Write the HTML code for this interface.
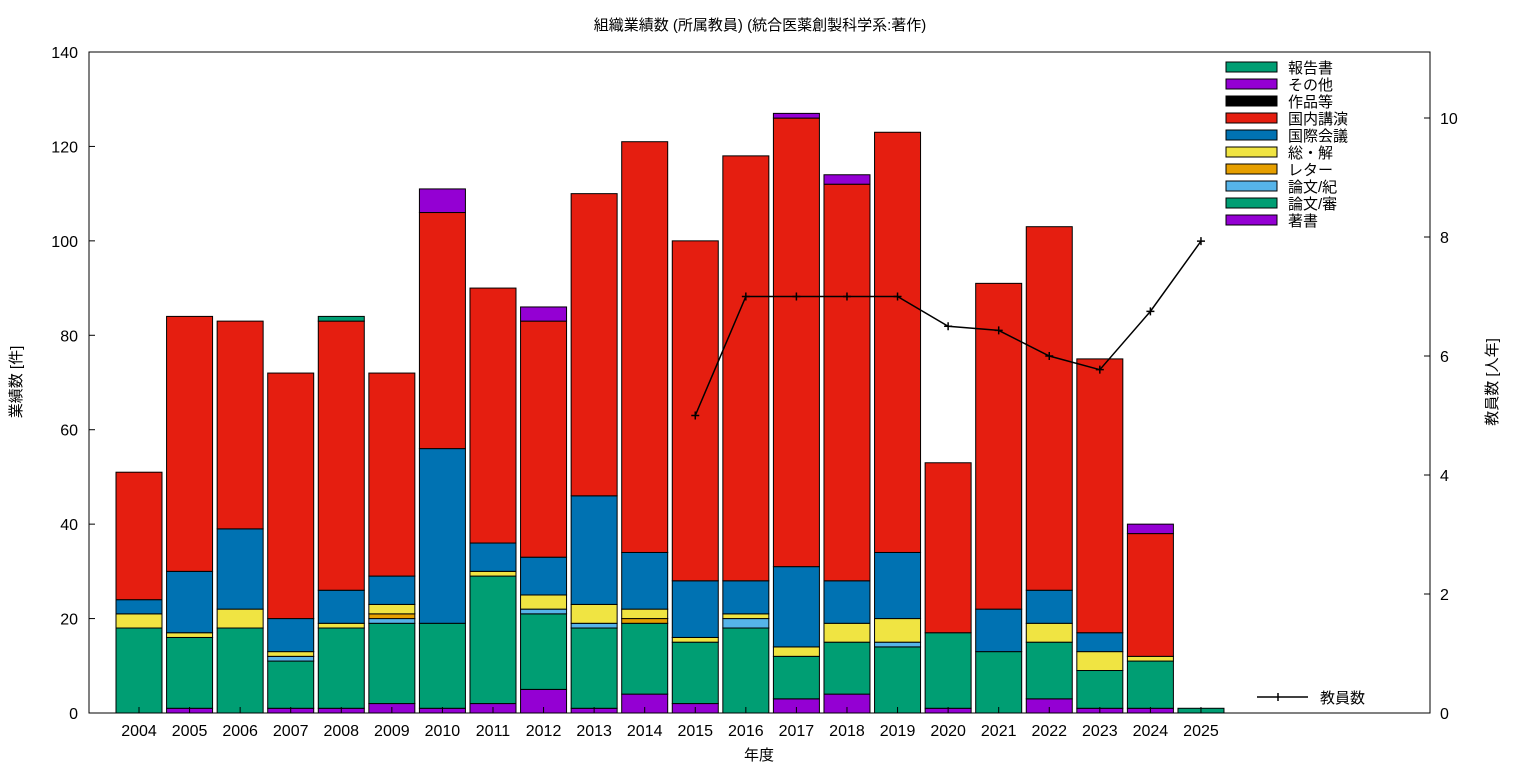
<!DOCTYPE html>
<html><head><meta charset="utf-8">
<style>
body{margin:0;background:#fff;font-family:"Liberation Sans","Noto Sans CJK JP",sans-serif;}
svg text{font-family:"Liberation Sans","Noto Sans CJK JP",sans-serif;}
</style></head>
<body>
<svg id="chart" width="1536" height="768" xmlns="http://www.w3.org/2000/svg"></svg>
<script>
const years=["2004","2005","2006","2007","2008","2009","2010","2011","2012","2013","2014","2015","2016","2017","2018","2019","2020","2021","2022","2023","2024","2025"];
const seriesNames=["著書","論文/審","論文/紀","レター","総・解","国際会議","国内講演","作品等","その他","報告書"];
const seriesColors=["#9400d3","#009e73","#56b4e9","#e69f00","#f0e442","#0072b2","#e51e10","#000000","#9400d3","#009e73"];
const books=[0,1,0,1,1,2,1,2,5,1,4,2,0,3,4,0,1,0,3,1,1,0];
const peerPapers=[18,15,18,10,17,17,18,27,16,17,15,13,18,9,11,14,16,13,12,8,10,1];
const bulletinPapers=[0,0,0,1,0,1,0,0,1,1,0,0,2,0,0,1,0,0,0,0,0,0];
const letters=[0,0,0,0,0,1,0,0,0,0,1,0,0,0,0,0,0,0,0,0,0,0];
const reviews=[3,1,4,1,1,2,0,1,3,4,2,1,1,2,4,5,0,0,4,4,1,0];
const intlConf=[3,13,17,7,7,6,37,6,8,23,12,12,7,17,9,14,0,9,7,4,0,0];
const domesticTalks=[27,54,44,52,57,43,50,54,50,64,87,72,90,95,84,89,36,69,77,58,26,0];
const works=[0,0,0,0,0,0,0,0,0,0,0,0,0,0,0,0,0,0,0,0,0,0];
const others=[0,0,0,0,0,0,5,0,3,0,0,0,0,1,2,0,0,0,0,0,2,0];
const reports=[0,0,0,0,1,0,0,0,0,0,0,0,0,0,0,0,0,0,0,0,0,0];
const staffYears=["2015","2016","2017","2018","2019","2020","2021","2022","2023","2024","2025"];
const staff=[5,7,7,7,7,6.5,6.43,6,5.77,6.75,7.93];
const leftTicks=[0,20,40,60,80,100,120,140];
const rightTicks=[0,2,4,6,8,10];
const allSeries=[books,peerPapers,bulletinPapers,letters,reviews,intlConf,domesticTalks,works,others,reports];

const NS="http://www.w3.org/2000/svg";
const svg=document.getElementById('chart');
function mk(tag,attrs,parent){const e=document.createElementNS(NS,tag);for(const k in attrs)e.setAttribute(k,attrs[k]);(parent||svg).appendChild(e);return e;}
const X0=89,X1=1430,Y0=713,Y1=52;
const yL=v=>Y0-v*(Y0-Y1)/140;
const yR=v=>Y0-v*59.5;
const xC=i=>139+i*50.57;
const BW=46;

// bars
const barsG=mk('g',{});


years.forEach((yr,i)=>{
  let cum=0;
  allSeries.forEach((s,k)=>{
    const v=s[i]; if(!v) return;
    const r=mk('rect',{x:xC(i)-BW/2,y:yL(cum+v),width:BW,height:yL(cum)-yL(cum+v),fill:seriesColors[k],stroke:'#000','stroke-width':1},barsG);
    
    
    cum+=v;
  });
});

// frame
const fr=mk('rect',{x:X0,y:Y1,width:X1-X0,height:Y0-Y1,fill:'none',stroke:'#000','stroke-width':1});



// left ticks
leftTicks.forEach(t=>{
  const y=yL(t);
  mk('line',{x1:X0,x2:X0+6,y1:y,y2:y,stroke:'#000'});
  const tx=mk('text',{x:78,y:y+6,'text-anchor':'end','font-size':16});
  tx.textContent=t;
  
  
});
rightTicks.forEach(t=>{
  const y=yR(t);
  mk('line',{x1:X1-6,x2:X1,y1:y,y2:y,stroke:'#000'});
  const tx=mk('text',{x:1440,y:y+6,'font-size':16});
  tx.textContent=t;
  
  
});
years.forEach((yr,i)=>{
  mk('line',{x1:xC(i),x2:xC(i),y1:Y0,y2:Y0-6,stroke:'#000'});
  const tx=mk('text',{x:xC(i),y:736,'text-anchor':'middle','font-size':16});
  tx.textContent=yr;
  
  
});

// staff line
const pts=staffYears.map((yr,j)=>[xC(years.indexOf(yr)),yR(staff[j])]);
const pl=mk('polyline',{points:pts.map(p=>p.join(',')).join(' '),fill:'none',stroke:'#000','stroke-width':1.5});


pts.forEach(p=>{
  const m=mk('path',{d:`M${p[0]-4},${p[1]}h8M${p[0]},${p[1]-4}v8`,stroke:'#000','stroke-width':1.5});
  
  
});

// legend
for(let k=seriesNames.length-1,row=0;k>=0;k--,row++){
  const y=67+row*17;
  const r=mk('rect',{x:1226,y:y-5,width:51,height:10,fill:seriesColors[k],stroke:'#000'});
  
  
  const t=mk('text',{x:1288,y:y+6,'font-size':15});
  t.textContent=seriesNames[k];
  
  
}
mk('line',{x1:1257,x2:1308,y1:697,y2:697,stroke:'#000','stroke-width':1.5});
mk('path',{d:'M1278,693v8',stroke:'#000','stroke-width':1.5});
const lt=mk('text',{x:1320,y:703,'font-size':15});
lt.textContent='教員数';



// titles
const tt=mk('text',{x:760,y:30,'text-anchor':'middle','font-size':15});
tt.textContent='組織業績数 (所属教員) (統合医薬創製科学系:著作)';


const xt=mk('text',{x:759,y:760,'text-anchor':'middle','font-size':15});
xt.textContent='年度';


const yt=mk('text',{x:0,y:0,'text-anchor':'middle','font-size':15,transform:'translate(21,382) rotate(-90)'});
yt.textContent='業績数 [件]';


const y2=mk('text',{x:0,y:0,'text-anchor':'middle','font-size':15,transform:'translate(1497,382) rotate(-90)'});
y2.textContent='教員数 [人年]';


</script>
</body></html>
